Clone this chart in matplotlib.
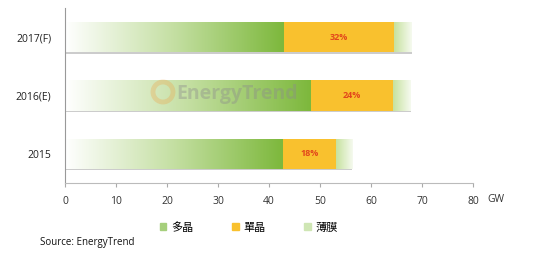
import numpy as np
import matplotlib
matplotlib.use("Agg")
import matplotlib.pyplot as plt
from matplotlib.patches import Patch, Ellipse
from matplotlib.colors import LinearSegmentedColormap

plt.rcParams['font.family'] = ['Open Sans', 'Noto Sans CJK TC', 'DejaVu Sans']

categories = ['2015', '2016(E)', '2017(F)']
multi = [42.7, 48.2, 42.9]      # 多晶
mono = [10.4, 16.1, 21.6]       # 單晶
thin = [3.2, 3.5, 3.5]          # 薄膜
mono_labels = ['18%', '24%', '32%']
xticks = [0, 10, 20, 30, 40, 50, 60, 70, 80]
legend_labels = ['多晶', '單晶', '薄膜']

W, H = 537, 270
fig = plt.figure(figsize=(5.37, 2.70), dpi=100)
ax = fig.add_axes([65/W, 1-183/H, 408/W, 175/H])

h = 0.52
y = np.arange(len(categories))
cm_multi = LinearSegmentedColormap.from_list('m', ['#ffffff', '#c4dfa2', '#7db83c'])
cm_thin = LinearSegmentedColormap.from_list('t', ['#f6faf0', '#c6e29e'])
grad = np.linspace(0, 1, 256).reshape(1, -1)

for i in range(len(categories)):
    total = multi[i] + mono[i] + thin[i]
    # shadow
    ax.barh(y[i] - 0.025, total, height=h, color='#cccccc', zorder=1)
    # multi gradient
    p1 = ax.barh(y[i], multi[i], height=h, left=0, color='none', zorder=2)[0]
    im = ax.imshow(grad, cmap=cm_multi, aspect='auto', zorder=2,
                   extent=[0, multi[i], y[i] - h/2, y[i] + h/2])
    im.set_clip_path(p1)
    # mono
    ax.barh(y[i], mono[i], height=h, left=multi[i], color='#f9c12e', zorder=3)
    ax.text(multi[i] + mono[i]/2, y[i], mono_labels[i], ha='center', va='center',
            color='#e2471c', fontsize=6.5, fontweight='bold', zorder=5)
    # thin gradient
    p3 = ax.barh(y[i], thin[i], height=h, left=multi[i] + mono[i], color='none', zorder=2)[0]
    im3 = ax.imshow(grad[:, ::-1], cmap=cm_thin, aspect='auto', zorder=2,
                    extent=[multi[i] + mono[i], total, y[i] - h/2, y[i] + h/2])
    im3.set_clip_path(p3)

ax.set_xlim(0, 80)
ax.set_ylim(-0.5, 2.5)
ax.set_xticks(xticks)
ax.set_xticklabels([str(t) for t in xticks], fontsize=7.5, color='#333333')
ax.set_yticks(y)
ax.set_yticklabels(categories, fontsize=7.5, color='#222222')
ax.tick_params(axis='y', length=0, pad=10)
ax.tick_params(axis='x', length=3, color='#aaaaaa', pad=6)
for s in ['top', 'right']:
    ax.spines[s].set_visible(False)
ax.spines['left'].set_color('#999999')
ax.spines['bottom'].set_color('#bbbbbb')
ax.spines['left'].set_linewidth(0.8)
ax.spines['bottom'].set_linewidth(0.8)

fig.text(487/W, 1-200/H, 'GW', fontsize=7.5, color='#333333', va='center', ha='left')

# watermark
fig.text(237/W, 1-94/H, 'EnergyTrend', fontsize=14, fontweight='bold',
         color='#8c8c8c', alpha=0.4, ha='center', va='center', zorder=10)
ring = Ellipse((163/W, 1-92/H), 20/W, 20/H, transform=fig.transFigure,
               facecolor='none', edgecolor='#f0a040', linewidth=3.5, alpha=0.3, zorder=10)
fig.add_artist(ring)

handles = [Patch(color='#a6cf7c'), Patch(color='#f9c12e'), Patch(color='#cfe6b4')]
fig.legend(handles, legend_labels, loc='center', bbox_to_anchor=(0.463, 1-228/H),
           ncol=3, frameon=False, fontsize=8, handlelength=0.6, handleheight=0.6,
           columnspacing=3.5, handletextpad=0.4)

fig.text(40/W, 1-242/H, 'Source: EnergyTrend', fontsize=7, color='#111111',
         va='center', ha='left')

fig.savefig('out.png', dpi=100)
